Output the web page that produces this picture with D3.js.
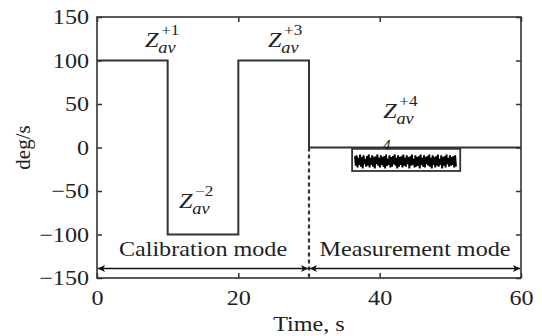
<!DOCTYPE html>
<html><head><meta charset="utf-8">
<script src="https://cdn.jsdelivr.net/npm/d3@7"></script>
<style>body{margin:0;background:#fff}svg{display:block}</style>
</head><body>
<script>
// ---- data ----
const stepTimes  = [0, 10, 10, 20, 20, 30, 30, 60];
const stepValues = [100, 100, -100, -100, 100, 100, 0, 0];
const dividerTime = 30;
const xTicks = [0, 20, 40, 60];
const yTicks = [150, 100, 50, 0, -50, -100, -150];
const noiseStart = 36.5, noiseEnd = 50.8;
const noiseValues = [-10,-21,-9,-23,-12,-20,-8,-22,-11,-24,-9,-19,-13,-22,-10,-21,-8,-23,-12,-20,-9,-22,-11,-24,-10,-19,-8,-21,-12,-23,-9,-20,-11,-22,-10,-24,-8,-21,-13,-20,-9,-23,-11,-22,-10,-19,-8,-21,-12,-24,-9,-22,-11,-20,-10,-23,-8,-21,-12,-22,-9,-19,-11,-24,-10,-21,-8,-20,-13,-23,-9,-22,-11,-21,-10,-24,-8,-20,-12,-22,-9,-23,-11,-19,-10,-21,-8,-22,-12,-24,-9,-20,-11,-23,-10,-21,-8,-22,-13,-20,-9,-24,-11,-21,-10,-23,-8,-19,-12,-22,-9,-21,-11,-20,-10,-23,-9,-22];
const noiseBox = {t0: 36.1, t1: 51.4, v0: -1.5, v1: -27};
const zLabels = [
  {t: 6.8,  v: 116, sup: "+1"},
  {t: 11.6, v: -69, sup: "\u22122"},
  {t: 24.2, v: 116, sup: "+3"},
  {t: 40.5, v: 34,  sup: "+4"}
];
const modes = [
  {name: "Calibration mode", t0: 0, t1: 30},
  {name: "Measurement mode", t0: 30, t1: 60}
];
const arrowLevel = -139;

// ---- layout ----
const W = 542, H = 336;
const m = {l: 97, r: 21, t: 17, b: 58};
const SX = 1.15;
const FONT = "'Liberation Serif','Times New Roman',serif";
const INK = "#222";

const svg = d3.select("body").append("svg").attr("width", W).attr("height", H);
const x = d3.scaleLinear().domain([0, 60]).range([m.l, W - m.r]);
const y = d3.scaleLinear().domain([-150, 150]).range([H - m.b, m.t]);

svg.append("defs").append("marker")
  .attr("id", "ah").attr("viewBox", "0 0 10 10").attr("refX", 10).attr("refY", 5)
  .attr("markerWidth", 12).attr("markerHeight", 7).attr("markerUnits", "userSpaceOnUse")
  .attr("orient", "auto-start-reverse")
  .append("path").attr("d", "M0,0 L10,5 L0,10 L2.5,5 z").attr("fill", "#111");

// axes
const axL = svg.append("g").attr("transform", `translate(${m.l},0)`)
  .call(d3.axisLeft(y).tickValues(yTicks).tickSize(-5).tickSizeOuter(0).tickPadding(8));
const axR = svg.append("g").attr("transform", `translate(${W - m.r},0)`)
  .call(d3.axisRight(y).tickValues(yTicks).tickSize(-5).tickSizeOuter(0).tickFormat(""));
const axB = svg.append("g").attr("transform", `translate(0,${H - m.b})`)
  .call(d3.axisBottom(x).tickValues(xTicks).tickSize(-5).tickSizeOuter(0).tickPadding(12));
const axT = svg.append("g").attr("transform", `translate(0,${m.t})`)
  .call(d3.axisTop(x).tickValues(xTicks).tickSize(-5).tickSizeOuter(0).tickFormat(""));
[axL, axR, axB, axT].forEach(g => {
  g.select(".domain").remove();
  g.selectAll("line").attr("stroke", "#333").attr("stroke-width", 1.5);
  g.selectAll("text").attr("font-family", FONT).attr("font-size", 21).attr("fill", INK)
    .attr("transform", `scale(${SX},1)`);
});
axL.selectAll("text").attr("x", -8 / SX);

// signal
const pts = stepTimes.map((t, i) => [x(t), y(stepValues[i])]);
svg.append("path").attr("d", d3.line()(pts)).attr("fill", "none")
  .attr("stroke", "#333").attr("stroke-width", 2);
svg.append("line").attr("x1", x(dividerTime)).attr("x2", x(dividerTime))
  .attr("y1", y(0)).attr("y2", y(-150)).attr("stroke", "#333").attr("stroke-width", 2.2)
  .attr("stroke-dasharray", "4,3");

// noise
svg.append("rect").attr("x", x(noiseBox.t0)).attr("y", y(noiseBox.v0))
  .attr("width", x(noiseBox.t1) - x(noiseBox.t0)).attr("height", y(noiseBox.v1) - y(noiseBox.v0))
  .attr("fill", "none").attr("stroke", "#333").attr("stroke-width", 1.8);
const nt = d3.scaleLinear().domain([0, noiseValues.length - 1]).range([noiseStart, noiseEnd]);
svg.append("path")
  .attr("d", d3.line().x((d, i) => x(nt(i))).y(d => y(d))(noiseValues))
  .attr("fill", "none").attr("stroke", "#000").attr("stroke-width", 1.9);
svg.append("text").attr("x", x(41)).attr("y", y(-3)).attr("font-family", FONT)
  .attr("font-style", "italic").attr("font-size", 15).attr("fill", INK)
  .attr("text-anchor", "middle").text("4");

// frame
svg.append("rect").attr("x", m.l).attr("y", m.t).attr("width", W - m.l - m.r)
  .attr("height", H - m.t - m.b).attr("fill", "none").attr("stroke", "#333").attr("stroke-width", 1.6);

// z labels
zLabels.forEach(d => {
  const g = svg.append("g").attr("transform", `translate(${x(d.t)},${y(d.v)}) scale(${SX},1)`)
    .attr("font-family", FONT).attr("fill", INK);
  g.append("text").attr("font-style", "italic").attr("font-size", 21).text("Z");
  g.append("text").attr("x", 11.5).attr("y", 6).attr("font-style", "italic").attr("font-size", 16).text("av");
  g.append("text").attr("x", 14).attr("y", -12).attr("font-size", 15).text(d.sup);
});

// mode arrows
modes.forEach(d => {
  svg.append("line").attr("x1", x(d.t0) + 1).attr("x2", x(d.t1) - 1)
    .attr("y1", y(arrowLevel)).attr("y2", y(arrowLevel))
    .attr("stroke", "#111").attr("stroke-width", 1.5)
    .attr("marker-start", "url(#ah)").attr("marker-end", "url(#ah)");
  svg.append("g").attr("transform", `translate(${(x(d.t0) + x(d.t1)) / 2},${y(arrowLevel) - 12}) scale(${SX},1)`)
    .append("text").attr("text-anchor", "middle").attr("font-family", FONT)
    .attr("font-size", 21).attr("fill", INK).text(d.name);
});

// axis titles
svg.append("g").attr("transform", `translate(${(m.l + W - m.r) / 2},${H - 5}) scale(${SX},1)`)
  .append("text").attr("text-anchor", "middle").attr("font-family", FONT)
  .attr("font-size", 21).attr("fill", INK).text("Time, s");
svg.append("text").attr("transform", `translate(30,${(m.t + H - m.b) / 2}) rotate(-90)`)
  .attr("text-anchor", "middle").attr("font-family", FONT)
  .attr("font-size", 21).attr("fill", INK).text("deg/s");
</script>
</body></html>
